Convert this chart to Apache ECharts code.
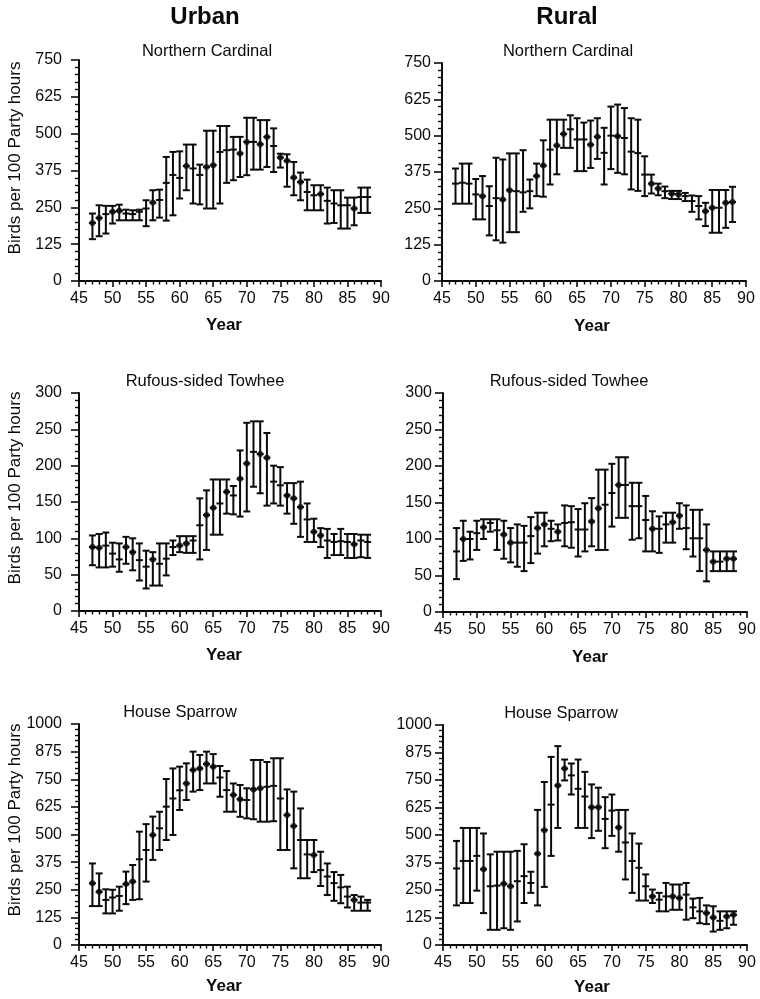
<!DOCTYPE html>
<html>
<head>
<meta charset="utf-8">
<script src="https://cdn.jsdelivr.net/npm/echarts@6/dist/echarts.min.js"></script>
<style>
  html, body { margin: 0; padding: 0; background: #fff; }
  #chart { width: 760px; height: 999px; }
</style>
</head>
<body>
<div id="chart"></div>
<script>
// Christmas Bird Count years (19xx), one bar per count season
const years = [47,48,49,50,51,52,53,54,55,56,57,58,59,60,61,62,63,64,65,66,67,68,69,70,71,72,73,74,75,76,77,78,79,80,81,82,83,84,85,86,87,88];

// Northern Cardinal, urban counts: mean and error-bar bounds
const ucMean = [197,214,227,235,238,229,227,235,246,266,275,333,360,350,390,382,360,387,393,438,444,446,433,472,472,464,489,458,419,408,351,336,302,291,295,272,263,257,257,246,285,285];
const ucLow  = [142,152,161,195,206,206,206,206,186,206,215,205,223,280,308,263,260,246,246,263,333,342,353,359,378,378,387,370,385,320,291,274,240,240,240,195,197,178,178,189,231,231];
const ucHigh = [229,257,255,255,259,242,240,242,274,308,310,421,438,440,463,463,395,510,510,526,526,489,489,554,554,546,546,518,432,430,404,368,344,325,325,317,308,308,283,283,317,317];
const ucDots = [47,48,50,51,56,61,64,65,69,70,72,73,75,76,77,78,81,86];

// Northern Cardinal, rural counts
const rcMean = [335,338,335,298,292,258,285,280,312,309,305,309,361,397,452,466,506,522,487,487,469,496,441,500,498,492,445,440,366,335,318,309,300,298,292,275,258,240,252,252,269,272];
const rcLow  = [266,266,266,212,212,157,140,132,168,168,238,250,292,290,332,367,458,458,378,378,389,420,332,385,372,367,315,310,292,301,295,285,282,282,275,238,212,189,166,166,183,203];
const rcHigh = [387,404,404,351,361,326,424,418,439,439,450,349,404,484,555,555,555,570,560,545,552,560,527,600,607,595,560,555,429,366,335,325,310,310,303,294,292,269,313,313,313,324];
const rcDots = [51,54,55,59,60,62,63,67,68,71,76,77,79,80,84,85,87,88];

// Rufous-sided Towhee, urban counts
const utMean = [88,87,90,79,71,88,81,70,61,71,65,72,88,90,93,97,118,132,142,148,164,159,182,203,219,216,211,178,173,159,155,143,126,109,104,97,95,96,95,92,97,95];
const utLow  = [63,60,60,61,54,65,56,42,31,35,35,49,77,81,80,80,71,84,105,105,134,133,130,137,171,162,145,148,145,134,120,102,95,95,88,73,77,77,73,73,74,73];
const utHigh = [104,106,108,94,93,102,100,93,83,81,93,93,97,103,103,103,155,166,181,181,181,172,221,259,261,261,245,200,198,176,176,178,148,127,114,113,106,113,106,106,105,105];
const utDots = [47,48,52,53,56,60,61,64,65,67,69,70,72,73,76,77,78,80,81,86];

// Rufous-sided Towhee, rural counts
const rtMean = [83,100,100,108,116,122,112,106,95,95,95,104,115,120,114,110,122,123,113,113,124,142,147,163,174,174,145,145,126,114,114,120,123,132,115,101,101,85,69,69,73,73];
const rtLow  = [45,70,72,85,100,110,85,73,68,62,56,67,80,90,97,98,90,88,76,83,90,85,85,117,129,129,99,101,83,83,81,95,95,114,86,76,56,42,56,56,56,56];
const rtHigh = [115,125,110,125,127,127,127,125,115,120,118,130,136,136,125,120,146,145,141,149,156,195,195,203,212,212,177,177,159,138,131,136,136,149,146,140,140,120,83,83,83,83];
const rtDots = [48,51,54,55,59,60,62,67,68,71,76,79,80,84,85,87,88];

// House Sparrow, urban counts
const usMean = [279,241,204,215,222,276,287,388,430,498,528,626,663,700,731,792,799,819,807,758,701,679,659,656,704,709,716,720,663,588,538,475,410,407,339,310,280,261,219,204,192,192];
const usLow  = [176,176,143,143,155,185,204,207,287,385,430,475,498,611,656,694,701,731,731,671,603,603,580,573,569,558,558,560,430,430,347,302,302,330,267,226,200,189,170,155,155,155];
const usHigh = [369,324,252,250,264,332,362,513,547,581,603,751,799,807,822,875,860,875,864,810,787,731,724,709,837,837,828,845,845,704,694,618,475,475,422,369,330,317,264,226,219,204];
const usDots = [47,48,52,53,56,61,62,63,64,65,68,69,71,72,76,77,80,86];

// House Sparrow, rural counts
const rsMean = [348,382,382,405,344,267,270,278,267,290,313,282,415,522,638,725,802,771,710,675,626,626,573,611,534,466,382,351,267,221,206,221,221,214,229,171,153,145,125,110,130,137];
const rsLow  = [180,191,191,247,145,69,69,76,69,107,191,237,180,264,405,532,748,684,532,532,486,519,440,496,424,298,237,202,202,191,153,153,160,160,115,122,99,95,61,69,76,92];
const rsHigh = [473,532,532,532,507,412,424,424,424,428,458,333,614,741,855,904,843,825,843,787,730,715,672,684,614,614,507,461,321,252,237,282,275,275,282,211,214,180,176,153,153,153];
const rsDots = [51,54,55,59,60,62,63,67,68,71,76,79,80,84,85,87,88];

// Axis tick settings per row
const rowMax  = [750, 300, 1000];
const rowStep = [125, 50, 125];

// Panel layout: series arrays + grid box + title placement
const panels = [
  { mean: ucMean, low: ucLow, high: ucHigh, dots: ucDots, row: 0, col: 0, box: { left: 79,  top: 60,  width: 302, height: 221 }, name: 'Northern Cardinal',   tx: 207, ty: 51 },
  { mean: rcMean, low: rcLow, high: rcHigh, dots: rcDots, row: 0, col: 1, box: { left: 442, top: 63,  width: 304, height: 218 }, name: 'Northern Cardinal',   tx: 568, ty: 51 },
  { mean: utMean, low: utLow, high: utHigh, dots: utDots, row: 1, col: 0, box: { left: 79,  top: 393, width: 302, height: 218 }, name: 'Rufous-sided Towhee', tx: 205, ty: 381 },
  { mean: rtMean, low: rtLow, high: rtHigh, dots: rtDots, row: 1, col: 1, box: { left: 443, top: 393, width: 304, height: 219 }, name: 'Rufous-sided Towhee', tx: 569, ty: 381 },
  { mean: usMean, low: usLow, high: usHigh, dots: usDots, row: 2, col: 0, box: { left: 79,  top: 724, width: 302, height: 221 }, name: 'House Sparrow',       tx: 180, ty: 712 },
  { mean: rsMean, low: rsLow, high: rsHigh, dots: rsDots, row: 2, col: 1, box: { left: 443, top: 725, width: 304, height: 220 }, name: 'House Sparrow',       tx: 561, ty: 713 }
];

const FONT = 'Liberation Sans, Arial, Helvetica, sans-serif';
const INK = '#0a0a0a';

// Error bar glyph: vertical whisker, end caps and a short tick at the mean
function renderErrorBar(params, api) {
  const x = api.value(0);
  const pMean = api.coord([x, api.value(1)]);
  const pLow = api.coord([x, api.value(2)]);
  const pHigh = api.coord([x, api.value(3)]);
  const w = 3.5;
  const style = { stroke: INK, lineWidth: 2, fill: null };
  return {
    type: 'group',
    children: [
      { type: 'line', shape: { x1: pHigh[0], y1: pHigh[1], x2: pLow[0], y2: pLow[1] }, style },
      { type: 'line', shape: { x1: pHigh[0] - w, y1: pHigh[1], x2: pHigh[0] + w, y2: pHigh[1] }, style },
      { type: 'line', shape: { x1: pLow[0] - w, y1: pLow[1], x2: pLow[0] + w, y2: pLow[1] }, style },
      { type: 'line', shape: { x1: pMean[0] - w, y1: pMean[1], x2: pMean[0] + w, y2: pMean[1] }, style }
    ]
  };
}

const grid = [], xAxis = [], yAxis = [], series = [];
panels.forEach((p, i) => {
  grid.push(Object.assign({ containLabel: false }, p.box));
  xAxis.push({
    gridIndex: i, type: 'value', min: 45, max: 90, interval: 5,
    axisLine: { show: true, onZero: false, lineStyle: { color: INK, width: 2 } },
    axisTick: { show: true, length: 6, lineStyle: { color: INK, width: 1.6 } },
    minorTick: { show: true, splitNumber: 5, length: 3.5, lineStyle: { color: INK, width: 1.4 } },
    splitLine: { show: false },
    axisLabel: { color: INK, fontSize: 16, fontFamily: FONT, margin: 10, showMinLabel: true, showMaxLabel: true,
                 formatter: v => String(v) }
  });
  yAxis.push({
    gridIndex: i, type: 'value', min: 0, max: rowMax[p.row], interval: rowStep[p.row],
    axisLine: { show: true, onZero: false, lineStyle: { color: INK, width: 2 } },
    axisTick: { show: true, length: 8, lineStyle: { color: INK, width: 1.6 } },
    minorTick: { show: true, splitNumber: 5, length: 4, lineStyle: { color: INK, width: 1.4 } },
    splitLine: { show: false },
    axisLabel: { color: INK, fontSize: 16, fontFamily: FONT, margin: p.col === 0 ? 17 : 11, showMinLabel: true, showMaxLabel: true,
                 formatter: v => String(v) }
  });
  series.push({
    type: 'custom', xAxisIndex: i, yAxisIndex: i, silent: true, clip: false,
    renderItem: renderErrorBar,
    encode: { x: 0, y: [1, 2, 3] },
    data: years.map((y, k) => [y, p.mean[k], p.low[k], p.high[k]])
  });
  series.push({
    type: 'scatter', xAxisIndex: i, yAxisIndex: i, silent: true,
    symbol: 'circle', symbolSize: 6,
    itemStyle: { color: INK },
    data: p.dots.map(y => [y, p.mean[years.indexOf(y)]])
  });
});

function label(text, x, y, size, bold, rotation) {
  return {
    type: 'text', x: x, y: y, rotation: rotation || 0, silent: true,
    style: {
      text: text, fill: INK, font: (bold ? 'bold ' : '') + size + 'px ' + FONT,
      textAlign: 'center', textVerticalAlign: 'middle', align: 'center', verticalAlign: 'middle'
    }
  };
}

const graphic = [
  label('Urban', 205, 17, 24, true),
  label('Rural', 567, 17, 24, true)
];
panels.forEach(p => graphic.push(label(p.name, p.tx, p.ty, 16.5, false)));
[158, 488, 820].forEach(cy => graphic.push(label('Birds per 100 Party hours', 15, cy, 17, false, Math.PI / 2)));
[[224, 325], [592, 326], [224, 655], [590, 657], [224, 986], [592, 987]].forEach(([x, y]) => graphic.push(label('Year', x, y, 17, true)));

const chart = echarts.init(document.getElementById('chart'), null, { renderer: 'canvas' });
chart.setOption({
  animation: false,
  backgroundColor: '#fff',
  textStyle: { fontFamily: FONT },
  grid, xAxis, yAxis, series, graphic
});
</script>
</body>
</html>
